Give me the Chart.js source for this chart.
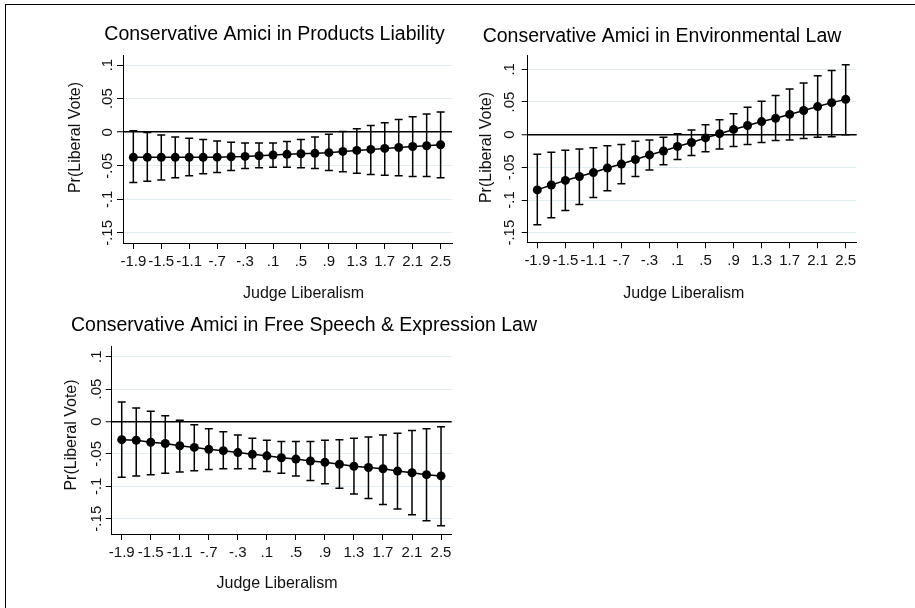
<!DOCTYPE html>
<html>
<head>
<meta charset="utf-8">
<script src="https://cdn.jsdelivr.net/npm/chart.js@4.4.1/dist/chart.umd.min.js"></script>
<style>
  html, body { margin: 0; padding: 0; background: #fff; width: 915px; height: 608px; overflow: hidden; }
  .frame { position: absolute; left: 5px; top: 4px; width: 1000px; height: 700px;
           border-top: 1.5px solid #000; border-left: 1.5px solid #000; }
  canvas { position: absolute; }
</style>
</head>
<body>
<div class="frame"></div>
<canvas id="products"></canvas>
<canvas id="environment"></canvas>
<canvas id="speech"></canvas>
<script>
// Judge liberalism values at which predicted effects were computed
const judgeLiberalism = [-1.9, -1.7, -1.5, -1.3, -1.1, -0.9, -0.7, -0.5, -0.3, -0.1, 0.1, 0.3,
                         0.5, 0.7, 0.9, 1.1, 1.3, 1.5, 1.7, 1.9, 2.1, 2.3, 2.5];

// Axis ticks and their printed labels
const xTicks = [-1.9, -1.5, -1.1, -0.7, -0.3, 0.1, 0.5, 0.9, 1.3, 1.7, 2.1, 2.5];
const xTickLabels = ['-1.9', '-1.5', '-1.1', '-.7', '-.3', '.1', '.5', '.9', '1.3', '1.7', '2.1', '2.5'];
const yTicks = [-0.15, -0.1, -0.05, 0, 0.05, 0.1];
const yTickLabels = ['-.15', '-.1', '-.05', '0', '.05', '.1'];

// Products liability: estimate and 95% interval
const productsEst = [-0.0374, -0.0374, -0.0374, -0.0374, -0.0374, -0.0374, -0.0372, -0.0365, -0.036, -0.035,
                     -0.034, -0.033, -0.032, -0.0315, -0.0305, -0.0286, -0.0271, -0.0256, -0.0241, -0.0227,
                     -0.0212, -0.0202, -0.0187];
const productsHi = [0.002, -0.0005, -0.004, -0.007, -0.009, -0.011, -0.013, -0.015, -0.016, -0.016,
                    -0.016, -0.014, -0.011, -0.007, -0.003, 0.001, 0.005, 0.010, 0.014, 0.019,
                    0.023, 0.027, 0.030];
const productsLo = [-0.075, -0.073, -0.071, -0.068, -0.065, -0.062, -0.060, -0.057, -0.054, -0.053,
                    -0.052, -0.052, -0.053, -0.054, -0.057, -0.059, -0.061, -0.063, -0.064, -0.065,
                    -0.066, -0.066, -0.068];

// Environmental law
const environmentEst = [-0.0845, -0.077, -0.070, -0.064, -0.058, -0.051, -0.045, -0.038, -0.031, -0.025,
                        -0.018, -0.012, -0.005, 0.0015, 0.008, 0.014, 0.020, 0.025, 0.031, 0.037,
                        0.043, 0.049, 0.054];
const environmentHi = [-0.030, -0.027, -0.024, -0.022, -0.020, -0.017, -0.015, -0.010, -0.008, -0.004,
                       0.0015, 0.007, 0.015, 0.023, 0.032, 0.042, 0.051, 0.060, 0.070, 0.079,
                       0.090, 0.098, 0.107];
const environmentLo = [-0.138, -0.127, -0.116, -0.107, -0.096, -0.086, -0.075, -0.064, -0.054, -0.046,
                       -0.038, -0.032, -0.026, -0.022, -0.018, -0.015, -0.012, -0.009, -0.008, -0.006,
                       -0.004, -0.003, 0.000];

// Free speech & expression law
const speechEst = [-0.028, -0.029, -0.032, -0.034, -0.0375, -0.040, -0.043, -0.045, -0.048, -0.0505,
                   -0.053, -0.056, -0.058, -0.061, -0.063, -0.066, -0.069, -0.071, -0.073, -0.0765,
                   -0.079, -0.082, -0.084];
const speechHi = [0.030, 0.021, 0.016, 0.009, 0.002, -0.005, -0.011, -0.016, -0.021, -0.026,
                  -0.029, -0.031, -0.031, -0.031, -0.029, -0.028, -0.026, -0.024, -0.021, -0.018,
                  -0.014, -0.011, -0.008];
const speechLo = [-0.086, -0.084, -0.082, -0.080, -0.078, -0.076, -0.074, -0.073, -0.073, -0.073,
                  -0.077, -0.080, -0.084, -0.091, -0.096, -0.103, -0.112, -0.119, -0.128, -0.135,
                  -0.144, -0.153, -0.161];

const FONT = "'Liberation Sans', Arial, Helvetica, sans-serif";
const TEXT = '#111';
const GRID = '#e2ecf0';
const TICK_SIZE = 15;
const TICK_LEN = 6;

// Vertical confidence-interval bars with caps, drawn under the estimate line
const errorBarPlugin = {
  id: 'errorBars',
  beforeDatasetsDraw(chart) {
    const { ctx, scales: { x, y } } = chart;
    const ds = chart.data.datasets[0];
    ctx.save();
    ctx.strokeStyle = '#000';
    ctx.lineWidth = 1.5;
    judgeLiberalism.forEach((v, i) => {
      const px = x.getPixelForValue(v);
      const pLo = y.getPixelForValue(ds.intervalLo[i]);
      const pHi = y.getPixelForValue(ds.intervalHi[i]);
      ctx.beginPath();
      ctx.moveTo(px, pLo); ctx.lineTo(px, pHi);
      ctx.moveTo(px - 4, pLo); ctx.lineTo(px + 4, pLo);
      ctx.moveTo(px - 4, pHi); ctx.lineTo(px + 4, pHi);
      ctx.stroke();
    });
    ctx.restore();
  }
};

function labelFor(values, labels, v) {
  let best = 0;
  values.forEach((t, i) => { if (Math.abs(t - v) < Math.abs(values[best] - v)) best = i; });
  return labels[best];
}

// Width of the widest y tick label, used to centre the rotated labels
const measureCtx = document.createElement('canvas').getContext('2d');
measureCtx.font = TICK_SIZE + 'px ' + FONT;
const widestYLabel = Math.max(...yTickLabels.map(t => measureCtx.measureText(t).width));

function makePanel(cfg, est, lo, hi) {
  const canvas = document.getElementById(cfg.id);
  canvas.width = cfg.w; canvas.height = cfg.h;
  canvas.style.left = cfg.left + 'px'; canvas.style.top = cfg.top + 'px';
  canvas.style.width = cfg.w + 'px'; canvas.style.height = cfg.h + 'px';

  // Panel heading and axis titles
  const textPlugin = {
    id: 'panelText',
    afterDraw(chart) {
      const ctx = chart.ctx;
      ctx.save();
      ctx.fillStyle = '#000';
      ctx.font = '19.5px ' + FONT;
      ctx.textAlign = 'center';
      ctx.textBaseline = 'alphabetic';
      ctx.fillText(cfg.title, cfg.titleX, cfg.titleY);
      ctx.fillStyle = TEXT;
      ctx.font = '16px ' + FONT;
      ctx.fillText('Judge Liberalism', cfg.xTitleX, cfg.xTitleY);
      ctx.translate(cfg.yTitleX, cfg.yTitleY);
      ctx.rotate(-Math.PI / 2);
      ctx.textBaseline = 'middle';
      ctx.fillText('Pr(Liberal Vote)', 0, 0);
      ctx.restore();
    }
  };

  return new Chart(canvas, {
    type: 'line',
    data: {
      datasets: [{
        data: judgeLiberalism.map((v, i) => ({ x: v, y: est[i] })),
        intervalLo: lo,
        intervalHi: hi,
        borderColor: '#000',
        borderWidth: 1.5,
        pointRadius: 4.5,
        pointBackgroundColor: '#000',
        pointBorderWidth: 0,
        tension: 0
      }]
    },
    options: {
      responsive: false,
      animation: false,
      devicePixelRatio: 1,
      events: [],
      layout: { padding: { left: 0, right: cfg.w - cfg.area.r, top: cfg.area.t, bottom: 0 } },
      plugins: { legend: { display: false }, tooltip: { enabled: false }, title: { display: false } },
      scales: {
        x: {
          type: 'linear',
          min: cfg.xMin, max: cfg.xMax,
          afterBuildTicks: s => { s.ticks = xTicks.map(v => ({ value: v })); },
          afterFit: s => { s.height = cfg.h - cfg.area.b; },
          ticks: {
            autoSkip: false, maxRotation: 0, minRotation: 0, padding: 4,
            color: TEXT, font: { family: FONT, size: TICK_SIZE },
            callback: v => labelFor(xTicks, xTickLabels, v)
          },
          grid: { drawOnChartArea: false, drawTicks: true, tickLength: TICK_LEN, tickColor: '#000', tickWidth: 1 },
          border: { display: true, color: '#000', width: 1 }
        },
        y: {
          type: 'linear',
          min: cfg.yMin, max: cfg.yMax,
          afterBuildTicks: s => { s.ticks = yTicks.map(v => ({ value: v })); },
          afterFit: s => { s.width = cfg.area.l; },
          ticks: {
            autoSkip: false, minRotation: 90, maxRotation: 90, crossAlign: 'center',
            padding: cfg.yLabelGap - TICK_LEN - widestYLabel / 2,
            color: TEXT, font: { family: FONT, size: TICK_SIZE },
            callback: v => labelFor(yTicks, yTickLabels, v)
          },
          grid: {
            color: c => (c.tick && Math.abs(c.tick.value) < 1e-9) ? '#000' : GRID,
            lineWidth: c => (c.tick && Math.abs(c.tick.value) < 1e-9) ? 1.5 : 1,
            drawTicks: true, tickLength: TICK_LEN, tickColor: '#000', tickWidth: 1
          },
          border: { display: true, color: '#000', width: 1 }
        }
      }
    },
    plugins: [errorBarPlugin, textPlugin]
  });
}

makePanel({
  id: 'products', left: 0, top: 0, w: 460, h: 305,
  area: { l: 123, r: 452, t: 55, b: 243 },
  xMin: -2.048, xMax: 2.663, yMin: -0.165, yMax: 0.115, yLabelGap: 15,
  title: 'Conservative Amici in Products Liability', titleX: 274.5, titleY: 40,
  xTitleX: 303.5, xTitleY: 298, yTitleX: 76, yTitleY: 137.5
}, productsEst, productsLo, productsHi);

makePanel({
  id: 'environment', left: 460, top: 0, w: 455, h: 305,
  area: { l: 67.7, r: 396.7, t: 55, b: 242.3 },
  xMin: -2.037, xMax: 2.657, yMin: -0.1647, yMax: 0.1219, yLabelGap: 17.5,
  title: 'Conservative Amici in Environmental Law', titleX: 202, titleY: 42,
  xTitleX: 223.8, xTitleY: 298, yTitleX: 26.7, yTitleY: 147.5
}, environmentEst, environmentLo, environmentHi);

makePanel({
  id: 'speech', left: 0, top: 305, w: 620, h: 303,
  area: { l: 111.7, r: 451.7, t: 41, b: 229 },
  xMin: -2.038, xMax: 2.647, yMin: -0.1736, yMax: 0.1165, yLabelGap: 15,
  title: 'Conservative Amici in Free Speech & Expression Law', titleX: 304, titleY: 25.7,
  xTitleX: 277, xTitleY: 283, yTitleX: 71.7, yTitleY: 130
}, speechEst, speechLo, speechHi);
</script>
</body>
</html>
